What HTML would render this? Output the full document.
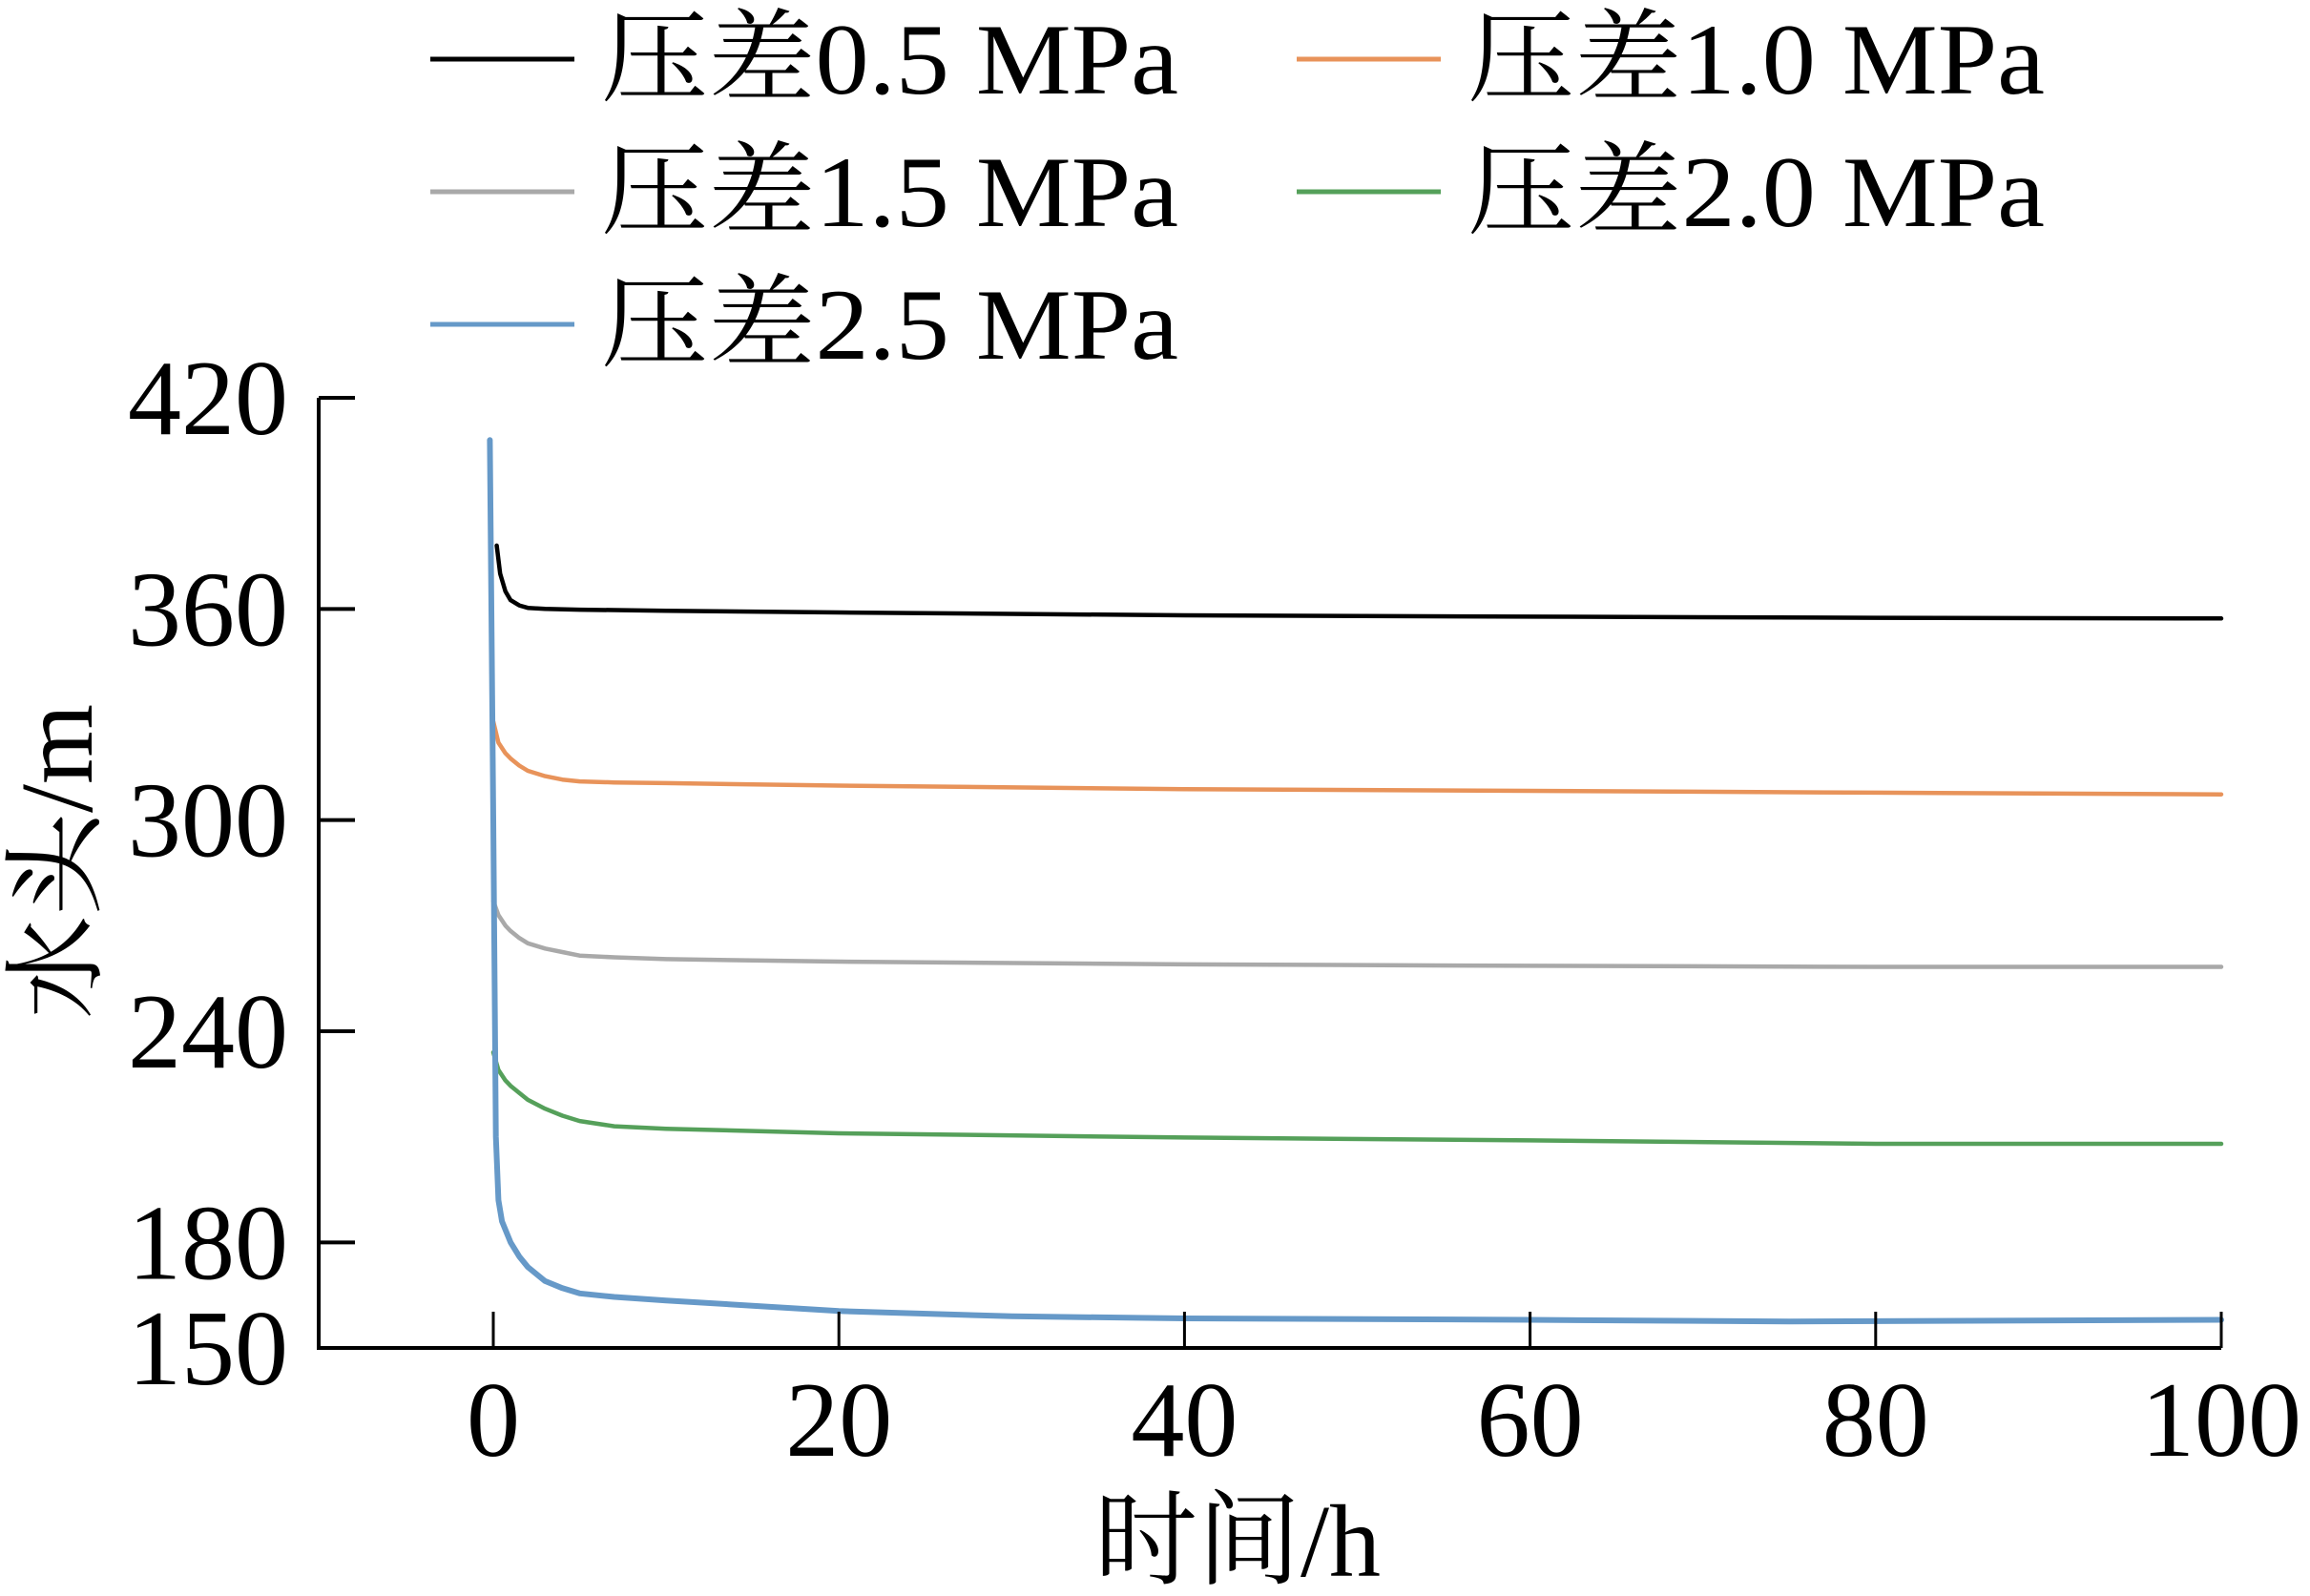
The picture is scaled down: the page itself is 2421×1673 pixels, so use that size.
<!DOCTYPE html>
<html><head><meta charset="utf-8"><style>
html,body{margin:0;padding:0;background:#fff;}
svg text{font-family:"Liberation Serif","Noto Serif CJK SC",serif;fill:#000;}
</style></head><body>
<svg id="chart" width="2421" height="1668" viewBox="0 0 2421 1668" xmlns="http://www.w3.org/2000/svg">
<g id="plot"></g>
</svg>
<script>
const xTicks=[0,20,40,60,80,100];
const yTicks=[150,180,240,300,360,420];
const seriesNames=["压差0.5 MPa","压差1.0 MPa","压差1.5 MPa","压差2.0 MPa","压差2.5 MPa"];
const seriesColors=["#000000","#e8935a","#a9a9a9","#55a05a","#6699c8"];
const t0=[0.2,0.4,0.7,1,1.5,2,3,5,10,20,40,60,80,100];
const h05=[378,370,365,362.5,361,360.3,360,359.8,359.5,359,358.2,357.8,357.5,357.3];
const t1=[0,0.3,0.7,1,1.5,2,3,4,5,7,10,20,40,60,80,100];
const h10=[328,322,319,317.5,315.5,314,312.5,311.5,311,310.7,310.5,309.8,308.8,308.3,307.8,307.3];
const h15=[277,273,270,268.5,266.5,265,263.5,262.5,261.5,261,260.5,259.8,259,258.6,258.3,258.3];
const h20=[234,229,226,224.5,222.5,220.5,218,216,214.5,213,212.3,211,209.8,209,208,208];
const t2=[-0.2,0,0.15,0.3,0.5,1,1.5,2,3,4,5,7,10,15,20,30,40,60,75,100];
const h25=[408,300,210,192,186,180,176,173,169,167,165.5,164.5,163.5,162,160.5,159,158.4,158,157.5,158];
const seriesT=[t0,t1,t1,t1,t2];
const seriesH=[h05,h10,h15,h20,h25];

const NS="http://www.w3.org/2000/svg";
const g=document.getElementById('plot');
const X0=334,X1=2328,Y0=1413,Y1=417;
function xs(v){return 517+(v-0)*(2328-517)/100;}
function ys(v){return Y0-(v-150)*(Y0-Y1)/270;}
function mk(tag,attrs){const e=document.createElementNS(NS,tag);for(const k in attrs)e.setAttribute(k,attrs[k]);g.appendChild(e);return e;}

seriesH.forEach((hs,i)=>{
  const ts=seriesT[i];
  const d=hs.map((h,j)=>(j?'L':'M')+xs(ts[j]).toFixed(1)+' '+ys(h).toFixed(1)).join(' ');
  const p=mk('path',{d:d,fill:'none',stroke:seriesColors[i],'stroke-width':i==4?6:4.5,'stroke-linejoin':'round','stroke-linecap':'round'});
  
  
});

const ax=mk('path',{d:`M${X0} ${Y1} L${X0} ${Y0} L${X1} ${Y0}`,fill:'none',stroke:'#000','stroke-width':4});



yTicks.forEach(v=>{
  const l=mk('line',{x1:X0,x2:X0+38,y1:ys(v),y2:ys(v),stroke:'#000','stroke-width':4});
  
  
  const t=mk('text',{x:302,y:ys(v)+38,'text-anchor':'end','font-size':112});
  t.textContent=v;
  
  
});
xTicks.forEach(v=>{
  const l=mk('line',{x1:xs(v),x2:xs(v),y1:Y0,y2:Y0-38,stroke:'#000','stroke-width':3});
  
  
  const t=mk('text',{x:xs(v),y:1526,'text-anchor':'middle','font-size':112});
  t.textContent=v;
  
  
});

const xt=mk('text',{x:1297,y:1652,'text-anchor':'middle','font-size':108});
xt.textContent='时间/h';


const yt=mk('text',{x:0,y:0,'text-anchor':'middle','font-size':108,transform:'translate(96,903) rotate(-90)'});
yt.textContent='水头/m';



const legX=[451,1359],legY=[62,201,340];
seriesNames.forEach((n,i)=>{
  const cx=legX[i%2],cy=legY[Math.floor(i/2)];
  const l=mk('line',{x1:cx,x2:cx+151,y1:cy,y2:cy,stroke:seriesColors[i],'stroke-width':5});
  
  
  const t=mk('text',{x:cx+179,y:cy+36,'font-size':106,textLength:605,lengthAdjust:'spacingAndGlyphs'});
  t.textContent=n;
  
  
});
</script>
</body></html>
